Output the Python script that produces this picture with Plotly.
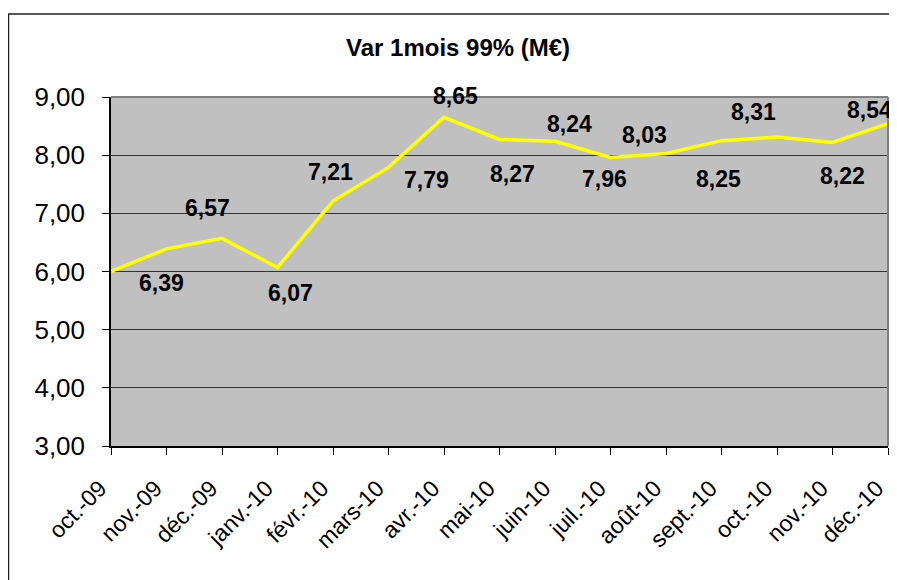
import plotly.graph_objects as go

categories = ["oct.-09", "nov.-09", "déc.-09", "janv.-10", "févr.-10", "mars-10", "avr.-10",
              "mai-10", "juin-10", "juil.-10", "août-10", "sept.-10", "oct.-10", "nov.-10", "déc.-10"]
values = [6.00, 6.39, 6.57, 6.07, 7.21, 7.79, 8.65, 8.27, 8.24, 7.96, 8.03, 8.25, 8.31, 8.22, 8.54]
show_label = [False] + [True] * 14
y_ticks = [3, 4, 5, 6, 7, 8, 9]

# label pixel offsets (xshift, yshift) relative to each point
label_offsets = [(0, 0), (-5, -34), (-15, 30), (13, -26), (-3, 29), (38, -13), (11, 21),
                 (13, -35), (14, 17), (-6, -22), (-22, 18), (-3, -38), (-24, 25), (10, -34), (-19, 14)]

FONT = "Arial, 'Liberation Sans', sans-serif"

# figure is drawn inside the page body (8px default body margin)
W, H = 889, 572
L, R, T, B = 103, 9, 89, 134
PW, PH = W - L - R, H - T - B

fig = go.Figure()
fig.add_trace(go.Scatter(x=categories, y=values, mode="lines",
                         line=dict(color="#FFFF00", width=3.5), hoverinfo="skip", showlegend=False))

for c, v, s, (dx, dy) in zip(categories, values, show_label, label_offsets):
    if not s:
        continue
    fig.add_annotation(x=c, y=v, text="<b>" + f"{v:.2f}".replace(".", ",") + "</b>", showarrow=False,
                       xshift=dx, yshift=dy, xanchor="center", yanchor="middle",
                       font=dict(family=FONT, size=23, color="black"))

fig.add_annotation(xref="paper", yref="paper", x=(450 - L) / PW, y=(T + PH - 39) / PH,
                   text="<b>Var 1mois 99% (M€)</b>", showarrow=False, xanchor="center", yanchor="middle",
                   font=dict(family=FONT, size=24, color="black"))

# plot-area top and right border (gray)
fig.add_shape(type="line", xref="paper", yref="paper", x0=0, x1=1, y0=1, y1=1,
              line=dict(color="#808080", width=2))
fig.add_shape(type="line", xref="paper", yref="paper", x0=1, x1=1, y0=0, y1=1,
              line=dict(color="#808080", width=2))
# outer chart border
fig.add_shape(type="rect", xref="paper", yref="paper", x0=(0.5 - L) / PW, x1=1.2,
              y0=-1.0, y1=(T + PH - 6) / PH, line=dict(color="#222222", width=1.5), layer="below")

fig.update_layout(
    width=W, height=H,
    margin=dict(l=L, r=R, t=T, b=B),
    paper_bgcolor="white", plot_bgcolor="#C0C0C0",
    separators=", ",
    font=dict(family=FONT, color="black"),
    xaxis=dict(type="category", range=[0, len(categories) - 1], tickangle=-45, automargin=False,
               showgrid=False, showline=True, linecolor="black", linewidth=1.5,
               ticks="outside", ticklen=7, tickcolor="black", tickwidth=1,
               tickfont=dict(family=FONT, size=23, color="black"), zeroline=False,
               ticklabelstandoff=11, ticklabelshift=-11),
    yaxis=dict(range=[3, 9], tickvals=y_ticks, tickformat=".2f", automargin=False,
               showgrid=True, gridcolor="#333333", gridwidth=1,
               showline=True, linecolor="black", linewidth=1.5,
               ticks="outside", ticklen=7, tickcolor="black", tickwidth=1,
               tickfont=dict(family=FONT, size=26, color="black"), zeroline=False,
               ticklabelstandoff=12),
)

fig.write_html("out.html")
